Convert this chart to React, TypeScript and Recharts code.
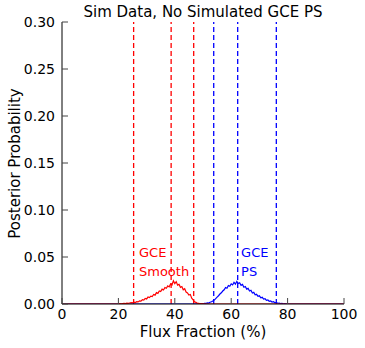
import {
  Line,
  LineChart,
  ReferenceDot,
  ReferenceLine,
  XAxis,
  YAxis,
} from "recharts";

const RED = "#ff0000";
const BLUE = "#0000ff";
const FONT = "'DejaVu Sans', sans-serif";

const X_TICKS = [0, 20, 40, 60, 80, 100];
const Y_TICKS = [0, 0.05, 0.1, 0.15, 0.2, 0.25, 0.3];

// histogram bins are 0.5% wide
const BIN = 0.5;
const SMOOTH_START = 20;
const SMOOTH_PROB = [
  0.0001, 0.0003, 0.0002, 0.0004, 0.0006, 0.0004, 0.0009, 0.0007, 0.0011, 0.0015,
  0.0012, 0.0019, 0.0016, 0.0025, 0.0022, 0.0034, 0.0031, 0.0045, 0.0041, 0.0059,
  0.0054, 0.0074, 0.0068, 0.0083, 0.0079, 0.0101, 0.0094, 0.0121, 0.0113, 0.0139,
  0.0132, 0.0158, 0.0149, 0.0176, 0.0168, 0.0193, 0.0182, 0.0214, 0.0203, 0.0247,
  0.0218, 0.0238, 0.0201, 0.0209, 0.0177, 0.0186, 0.0151, 0.0162, 0.0127, 0.0118,
  0.0096, 0.0102, 0.0061, 0.0044, 0.0023, 0.0017, 0.0008, 0.0006, 0.0002, 0.0003,
  0.0001, 0.0001, 0, 0, 0,
];

const PS_START = 47;
const PS_PROB = [
  0, 0.0001, 0.0002, 0.0001, 0.0003, 0.0005, 0.0003, 0.0007, 0.0006, 0.0012,
  0.001, 0.0019, 0.0024, 0.0033, 0.0042, 0.0058, 0.0073, 0.0088, 0.0106, 0.0119,
  0.0138, 0.0151, 0.0176, 0.0168, 0.0197, 0.0189, 0.0215, 0.0203, 0.0231, 0.0212,
  0.0241, 0.0218, 0.0226, 0.0199, 0.0208, 0.0179, 0.0186, 0.0158, 0.0166, 0.0139,
  0.0146, 0.0117, 0.0124, 0.0098, 0.0103, 0.0082, 0.0087, 0.0066, 0.0071, 0.0052,
  0.0056, 0.0039, 0.0043, 0.0029, 0.0032, 0.0021, 0.0024, 0.0013, 0.0016, 0.0008,
  0.0009, 0.0005, 0.0006, 0.0002, 0.0003, 0.0001, 0.0001, 0, 0, 0, 0,
];

// 16/50/84 percentile markers
const SMOOTH_LINES = [25.4, 38.7, 46.7];
const PS_LINES = [53.8, 62.3, 76.0];

function toSeries(start: number, probs: number[]) {
  const pts = probs.map((p, i) => ({ flux: start + i * BIN, prob: p }));
  return [{ flux: 0, prob: 0 }, ...pts, { flux: 100, prob: 0 }];
}

const smoothData = toSeries(SMOOTH_START, SMOOTH_PROB);
const psData = toSeries(PS_START, PS_PROB);

const TICK_LEN = 6;
const TICK_COLOR = "#444";

function BottomTick({ x, y, payload }: any) {
  return (
    <g>
      <line x1={x} y1={y} x2={x} y2={y - TICK_LEN} stroke={TICK_COLOR} />
      <text x={x} y={y + 14.5} textAnchor="middle" fontSize={14} fontFamily={FONT} fill="#000">
        {payload.value}
      </text>
    </g>
  );
}

function TopTick({ x, y }: any) {
  return <line x1={x} y1={y} x2={x} y2={y + TICK_LEN} stroke={TICK_COLOR} />;
}

function LeftTick({ x, y, payload }: any) {
  return (
    <g>
      <line x1={x} y1={y} x2={x + TICK_LEN} y2={y} stroke={TICK_COLOR} />
      <text x={x - 7} y={y + 5} textAnchor="end" fontSize={14} fontFamily={FONT} fill="#000">
        {Number(payload.value).toFixed(2)}
      </text>
    </g>
  );
}

function RightTick({ x, y }: any) {
  return <line x1={x} y1={y} x2={x - TICK_LEN} y2={y} stroke={TICK_COLOR} />;
}

const textStyle = { fontFamily: FONT, fontSize: 15, lineHeight: "15px", color: "#000" };
const noteLabel = (value: string, fill: string) => ({
  value,
  position: "right" as const,
  offset: 0,
  fill,
  fontSize: 13,
  fontFamily: FONT,
});

export default function App() {
  return (
    <div style={{ position: "absolute", left: 0, top: 0, width: 365, height: 348, background: "#fff" }}>
      <LineChart
        width={365}
        height={348}
        margin={{ top: 22, right: 21, left: 0, bottom: 0 }}
      >
        <XAxis
          dataKey="flux"
          type="number"
          domain={[0, 100]}
          ticks={X_TICKS}
          interval={0}
          allowDataOverflow
          height={44}
          tickSize={0}
          tickMargin={0}
          tickLine={false}
          axisLine={{ stroke: "#000" }}
          tick={BottomTick}
        />
        <XAxis
          xAxisId="top"
          orientation="top"
          type="number"
          domain={[0, 100]}
          ticks={X_TICKS}
          interval={0}
          height={0}
          tickSize={0}
          tickMargin={0}
          tickLine={false}
          axisLine={{ stroke: "#000" }}
          tick={TopTick}
        />
        <YAxis
          type="number"
          domain={[0, 0.3]}
          ticks={Y_TICKS}
          interval={0}
          allowDataOverflow
          width={62}
          tickSize={0}
          tickMargin={0}
          tickLine={false}
          axisLine={{ stroke: "#000" }}
          tick={LeftTick}
        />
        <YAxis
          yAxisId="right"
          orientation="right"
          type="number"
          domain={[0, 0.3]}
          ticks={Y_TICKS}
          interval={0}
          width={0}
          tickSize={0}
          tickMargin={0}
          tickLine={false}
          axisLine={{ stroke: "#000" }}
          tick={RightTick}
        />
        {SMOOTH_LINES.map((v) => (
          <ReferenceLine key={"s" + v} x={v} stroke={RED} strokeWidth={1.3} strokeDasharray="5 3" />
        ))}
        {PS_LINES.map((v) => (
          <ReferenceLine key={"p" + v} x={v} stroke={BLUE} strokeWidth={1.3} strokeDasharray="5 3" />
        ))}
        <Line
          data={psData}
          dataKey="prob"
          type="linear"
          stroke={BLUE}
          strokeWidth={1.2}
          dot={false}
          isAnimationActive={false}
        />
        <Line
          data={smoothData}
          dataKey="prob"
          type="linear"
          stroke={RED}
          strokeWidth={1.2}
          dot={false}
          isAnimationActive={false}
        />
        <ReferenceDot x={27.3} y={0.055} r={0} fill="none" stroke="none" label={noteLabel("GCE", RED)} />
        <ReferenceDot x={27.3} y={0.0348} r={0} fill="none" stroke="none" label={noteLabel("Smooth", RED)} />
        <ReferenceDot x={63.5} y={0.055} r={0} fill="none" stroke="none" label={noteLabel("GCE", BLUE)} />
        <ReferenceDot x={63.5} y={0.0348} r={0} fill="none" stroke="none" label={noteLabel("PS", BLUE)} />
      </LineChart>
      <div style={{ ...textStyle, position: "absolute", left: 62, width: 282, top: 5, textAlign: "center" }}>
        Sim Data, No Simulated GCE PS
      </div>
      <div style={{ ...textStyle, position: "absolute", left: 62, width: 282, top: 324.5, textAlign: "center" }}>
        Flux Fraction (%)
      </div>
      <div
        style={{
          ...textStyle,
          position: "absolute",
          left: 14.5 - 141,
          top: 163 - 7.5,
          width: 282,
          height: 15,
          textAlign: "center",
          transform: "rotate(-90deg)",
          whiteSpace: "nowrap",
        }}
      >
        Posterior Probability
      </div>
    </div>
  );
}
